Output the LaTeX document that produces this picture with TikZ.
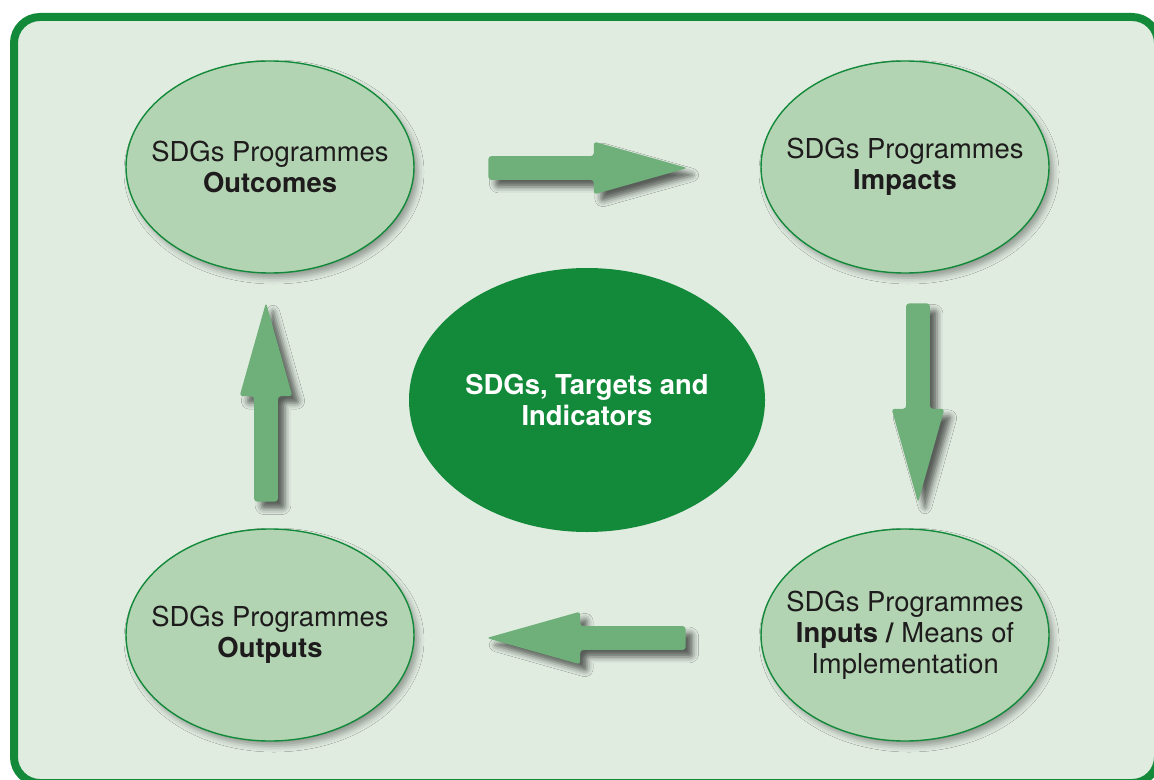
\documentclass[tikz,border=0pt]{standalone}
\usepackage{fontspec}
\setmainfont{TeX Gyre Heros}
\usepackage{tikz}
\usetikzlibrary{shapes.geometric, shapes.arrows, shadows.blur}
\definecolor{cFrame}{RGB}{19,138,58}
\definecolor{cBg}{RGB}{225,236,225}
\definecolor{cEll}{RGB}{179,212,179}
\definecolor{cArrow}{RGB}{111,175,121}
\definecolor{cText}{RGB}{30,27,28}
\newcommand{\diagfont}{\fontsize{13.7pt}{15.5pt}\selectfont}
\tikzset{
	stage/.style  ={ellipse, minimum width=144pt, minimum height=106pt, inner xsep=-25pt, inner ysep=0pt, align=center, draw=cFrame, line width=0.7pt, fill=cEll, text=cText, font=\diagfont, blur shadow={shadow xshift=2pt, shadow yshift=-2.5pt, shadow blur radius=3pt, shadow opacity=35}},
	hub/.style    ={ellipse, minimum width=178pt, minimum height=132pt, inner xsep=-20pt, inner ysep=0pt, align=center, fill=cFrame, text=white, font=\diagfont\bfseries},
	flowarr/.style={single arrow, minimum height=99.5pt, minimum width=26pt, single arrow head extend=7.25pt, single arrow tip angle=31.5, inner sep=5.75pt, fill=cArrow, rounded corners=1.5pt, anchor=tail, blur shadow={shadow xshift=3.5pt, shadow yshift=-3.5pt, shadow blur radius=3pt, shadow opacity=60}},
	frame/.style  ={line width=4pt, draw=cFrame, fill=cBg, rounded corners=13pt},
}
\begin{document}
\begin{tikzpicture}[x=0.5pt, y=-0.5pt]
	\useasboundingbox (0,0) rectangle (1154,780);
	\draw[frame] (14,17) rectangle (1158,783);
	% the four programme stages
	\node[stage] (outc) at (270,167) {SDGs Programmes\\ \textbf{Outcomes}};
	\node[stage] (imp)  at (905,167) {SDGs Programmes\\ \textbf{Impacts}};
	\node[stage] (inp)  at (905,635) {SDGs Programmes\\ \textbf{Inputs /} Means of\\ Implementation};
	\node[stage] (outp) at (270,635) {SDGs Programmes\\ \textbf{Outputs}};
	\node[hub] (sdg) at (587,400) {SDGs, Targets and\\ Indicators};
	% block arrows round the cycle
	\node[flowarr] (aR) at (488,168) {};
	\node[flowarr, shape border rotate=270] (aD) at (918,303) {};
	\node[flowarr, shape border rotate=180] (aL) at (686,638) {};
	\node[flowarr, shape border rotate=90] (aU) at (266,502) {};
\end{tikzpicture}
\end{document}
